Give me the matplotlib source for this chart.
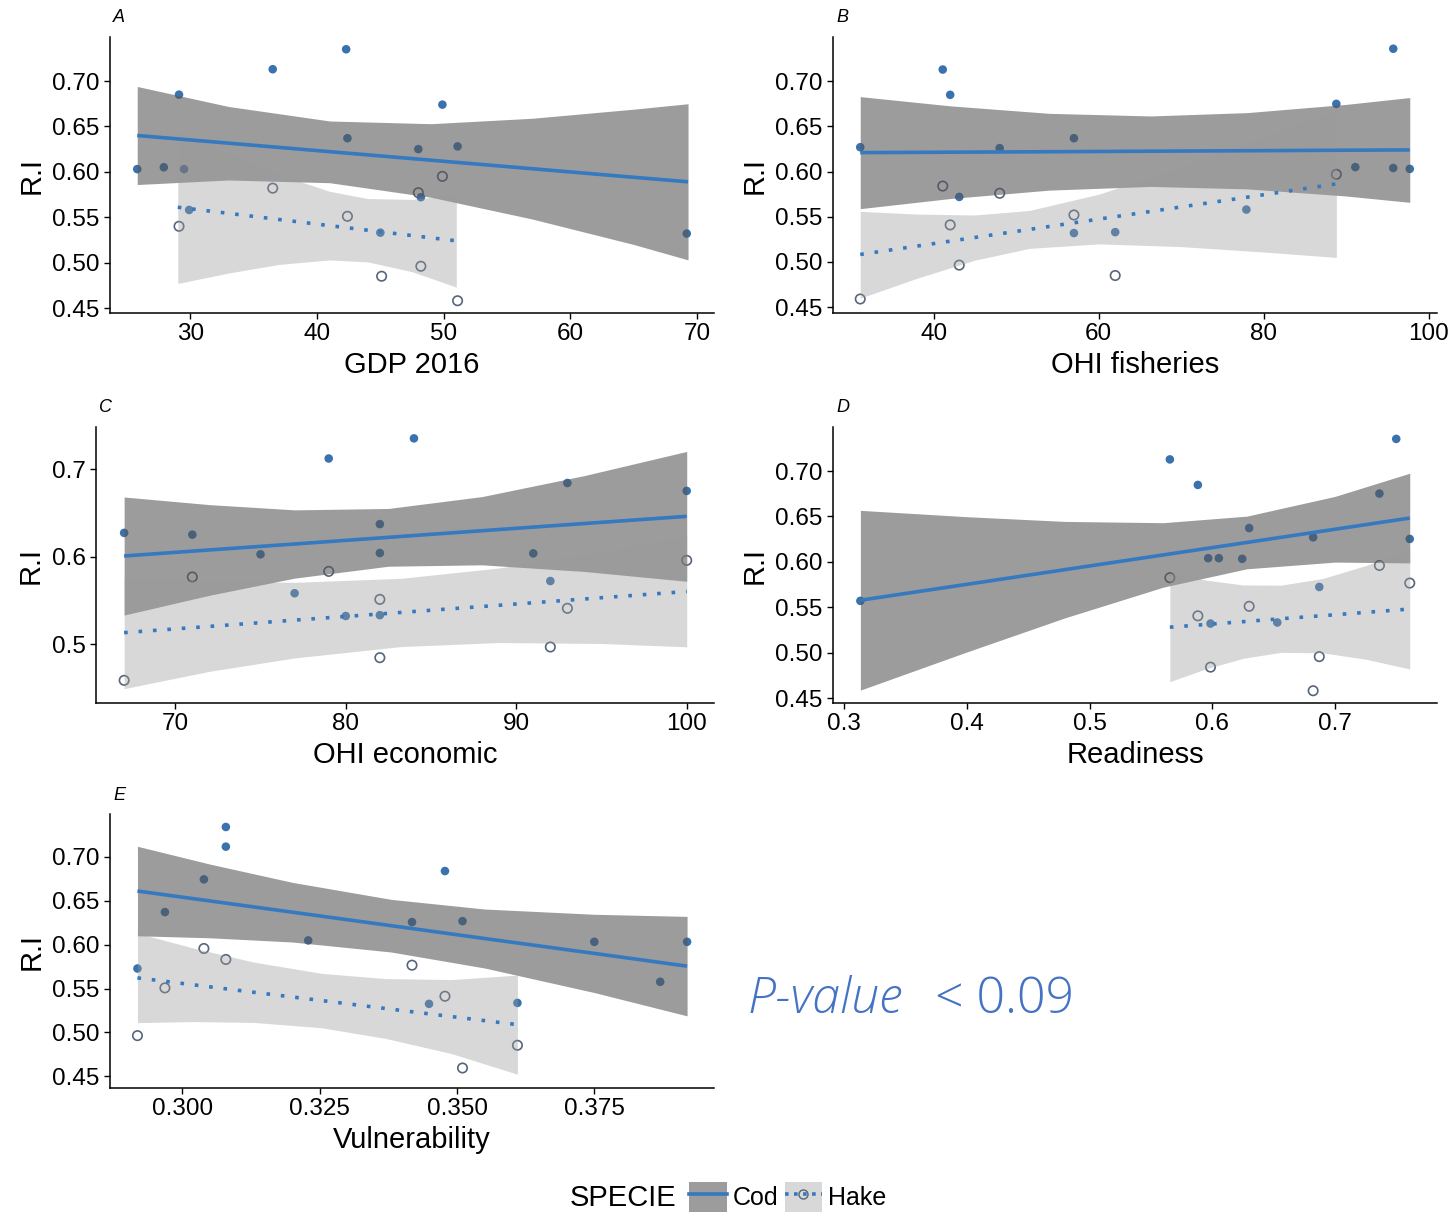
import matplotlib
matplotlib.use("Agg")
import matplotlib.pyplot as plt
from matplotlib.patches import Patch
from matplotlib.lines import Line2D

# -----------------------------
# DATA
# -----------------------------
# A: GDP 2016
GDP_COD_X = [25.8, 27.9, 29.5, 29.1, 36.5, 42.3, 42.4, 48.0, 49.9, 51.1, 48.2, 29.9, 45.0, 69.2]
GDP_COD_Y = [0.603, 0.605, 0.603, 0.685, 0.713, 0.735, 0.637, 0.625, 0.674, 0.628, 0.572, 0.558, 0.533, 0.532]
GDP_HAKE_X = [29.1, 36.5, 42.4, 48.0, 49.9, 45.1, 48.2, 51.1]
GDP_HAKE_Y = [0.540, 0.582, 0.551, 0.577, 0.595, 0.485, 0.496, 0.458]
GDP_COD_FX = [25.8, 33, 41, 49, 57, 65, 69.3]
GDP_COD_FIT = [0.640, 0.6316, 0.6222, 0.6128, 0.6034, 0.5940, 0.589]
GDP_COD_HI = [0.694, 0.672, 0.656, 0.653, 0.659, 0.669, 0.675]
GDP_COD_LO = [0.586, 0.591, 0.588, 0.572, 0.548, 0.520, 0.503]
GDP_HAKE_FX = [29, 33, 37, 41, 44, 47.5, 51]
GDP_HAKE_FIT = [0.561, 0.5543, 0.5475, 0.5407, 0.5357, 0.5298, 0.524]
GDP_HAKE_HI = [0.645, 0.620, 0.597, 0.5785, 0.5706, 0.5696, 0.575]
GDP_HAKE_LO = [0.477, 0.4885, 0.498, 0.503, 0.5008, 0.490, 0.473]

# B: OHI fisheries
FIS_COD_X = [31.1, 41.1, 42.0, 43.1, 48.0, 57.0, 57.0, 62.0, 77.9, 88.8, 91.1, 95.7, 95.7, 97.7]
FIS_COD_Y = [0.627, 0.713, 0.685, 0.572, 0.626, 0.637, 0.532, 0.533, 0.558, 0.675, 0.605, 0.736, 0.604, 0.603]
FIS_HAKE_X = [31.1, 41.1, 42.0, 43.1, 48.0, 57.0, 62.0, 88.8]
FIS_HAKE_Y = [0.459, 0.584, 0.541, 0.4965, 0.576, 0.552, 0.485, 0.597]
FIS_COD_FX = [31.1, 42, 54, 66.3, 78, 90, 97.7]
FIS_COD_FIT = [0.621, 0.6215, 0.622, 0.6226, 0.6231, 0.6237, 0.624]
FIS_COD_HI = [0.683, 0.6728, 0.6645, 0.6616, 0.6653, 0.6744, 0.682]
FIS_COD_LO = [0.559, 0.5702, 0.5795, 0.5836, 0.5809, 0.573, 0.566]
FIS_HAKE_FX = [31.1, 38, 45, 51.6, 60, 70, 80, 88.8]
FIS_HAKE_FIT = [0.5083, 0.5176, 0.5271, 0.536, 0.5474, 0.5609, 0.5744, 0.5864]
FIS_HAKE_HI = [0.556, 0.553, 0.552, 0.557, 0.575, 0.605, 0.638, 0.667]
FIS_HAKE_LO = [0.460, 0.482, 0.502, 0.515, 0.520, 0.517, 0.511, 0.505]

# C: OHI economic
ECO_COD_X = [67, 71, 75, 77, 79, 80, 82, 82, 82, 84, 91, 92, 93, 100]
ECO_COD_Y = [0.627, 0.625, 0.6025, 0.558, 0.712, 0.532, 0.637, 0.604, 0.533, 0.735, 0.6036, 0.572, 0.684, 0.675]
ECO_HAKE_X = [67, 71, 79, 82, 82, 92, 93, 100]
ECO_HAKE_Y = [0.4585, 0.5766, 0.583, 0.551, 0.4844, 0.4966, 0.5408, 0.5956]
ECO_COD_FX = [67, 72, 77, 82.5, 88, 94, 100]
ECO_COD_FIT = [0.6006, 0.6075, 0.6143, 0.6219, 0.6295, 0.6377, 0.6459]
ECO_COD_HI = [0.668, 0.6593, 0.6533, 0.6549, 0.6685, 0.6925, 0.7201]
ECO_COD_LO = [0.5331, 0.5557, 0.5753, 0.5889, 0.5905, 0.5829, 0.5717]
ECO_HAKE_FX = [67, 72, 77, 83.25, 89, 95, 100]
ECO_HAKE_FIT = [0.513, 0.5201, 0.5273, 0.5361, 0.5443, 0.5529, 0.560]
ECO_HAKE_HI = [0.575, 0.5714, 0.5705, 0.5751, 0.5869, 0.6052, 0.6232]
ECO_HAKE_LO = [0.449, 0.4688, 0.4841, 0.4971, 0.5017, 0.5006, 0.4968]

# D: Readiness
RDY_COD_X = [0.3133, 0.5654, 0.5882, 0.5966, 0.6053, 0.6243, 0.630, 0.5985, 0.6529, 0.6821, 0.6871, 0.7361, 0.7498, 0.7608]
RDY_COD_Y = [0.557, 0.7128, 0.6847, 0.604, 0.604, 0.6033, 0.6372, 0.532, 0.5332, 0.627, 0.5723, 0.6752, 0.7354, 0.6252]
RDY_HAKE_X = [0.5654, 0.5882, 0.5985, 0.630, 0.6821, 0.6871, 0.7361, 0.7608]
RDY_HAKE_Y = [0.5825, 0.5405, 0.484, 0.551, 0.458, 0.4956, 0.596, 0.5766]
RDY_COD_FX = [0.3133, 0.40, 0.48, 0.56, 0.628, 0.70, 0.7608]
RDY_COD_FIT = [0.5577, 0.5752, 0.5914, 0.6076, 0.6213, 0.6359, 0.6482]
RDY_COD_HI = [0.6567, 0.6497, 0.6445, 0.6431, 0.6503, 0.6721, 0.6976]
RDY_COD_LO = [0.4587, 0.5007, 0.5383, 0.5721, 0.5923, 0.5997, 0.5988]
RDY_HAKE_FX = [0.5654, 0.595, 0.625, 0.656, 0.69, 0.725, 0.7608]
RDY_HAKE_FIT = [0.528, 0.531, 0.5341, 0.5373, 0.5407, 0.5443, 0.548]
RDY_HAKE_HI = [0.588, 0.5798, 0.5745, 0.5743, 0.5817, 0.5959, 0.614]
RDY_HAKE_LO = [0.468, 0.4822, 0.4937, 0.5003, 0.4997, 0.4927, 0.482]

# E: Vulnerability
VUL_COD_X = [0.2918, 0.2968, 0.3039, 0.3079, 0.3079, 0.3229, 0.3418, 0.3449, 0.3478, 0.3510, 0.3610, 0.375, 0.387, 0.3919]
VUL_COD_Y = [0.5729, 0.6372, 0.6745, 0.7342, 0.7118, 0.6049, 0.6258, 0.5326, 0.684, 0.6269, 0.5337, 0.6033, 0.5577, 0.6033]
VUL_HAKE_X = [0.2918, 0.2968, 0.3039, 0.3079, 0.3418, 0.3478, 0.3510, 0.3610]
VUL_HAKE_Y = [0.4964, 0.5508, 0.5957, 0.5832, 0.5767, 0.5413, 0.4595, 0.4854]
VUL_COD_FX = [0.2918, 0.305, 0.32, 0.338, 0.355, 0.375, 0.3919]
VUL_COD_FIT = [0.6612, 0.6499, 0.6371, 0.6217, 0.6071, 0.5901, 0.5756]
VUL_COD_HI = [0.7122, 0.6919, 0.6711, 0.6517, 0.6407, 0.6347, 0.6323]
VUL_COD_LO = [0.6102, 0.6079, 0.6031, 0.5917, 0.5735, 0.5455, 0.5189]
VUL_HAKE_FX = [0.2918, 0.302, 0.313, 0.3253, 0.337, 0.349, 0.361]
VUL_HAKE_FIT = [0.5622, 0.5543, 0.5458, 0.5364, 0.5273, 0.5181, 0.5089]
VUL_HAKE_HI = [0.6132, 0.5962, 0.5802, 0.5674, 0.5614, 0.5603, 0.5654]
VUL_HAKE_LO = [0.5112, 0.5124, 0.5114, 0.5054, 0.4932, 0.4759, 0.4524]

Y_TICKS_2 = [0.45, 0.50, 0.55, 0.60, 0.65, 0.70]
Y_TICKS_1 = [0.5, 0.6, 0.7]

# -----------------------------
# STYLE
# -----------------------------
W, H = 1453, 1213
LINE_BLUE = "#3579c0"
POINT_BLUE = "#3a72ad"
HAKE_EDGE = "#56657d"
COD_FILL = "#555555"
HAKE_FILL = "#9a9a9a"
NOTE_BLUE = "#4472c4"

plt.rcParams["font.family"] = ["Liberation Sans", "DejaVu Sans"]

fig = plt.figure(figsize=(W / 100, H / 100), dpi=100)


def box(l, r, t, b):
    return [l / W, 1 - b / H, (r - l) / W, (b - t) / H]


def panel(rect, letter, xlabel, cod, hake, xlim, ylim, xticks, xfmt, yticks, yfmt):
    ax = fig.add_axes(rect)
    cx, cy, cfx, cfit, chi, clo = cod
    hx, hy, hfx, hfit, hhi, hlo = hake

    # points first, ribbons go over them like geom_smooth does
    ax.scatter(cx, cy, s=38, color=POINT_BLUE, edgecolors="none", zorder=1)
    ax.scatter(hx, hy, s=46, facecolors="none", edgecolors=HAKE_EDGE, linewidths=1.2, zorder=1)

    ax.fill_between(cfx, clo, chi, color=COD_FILL, alpha=0.58, linewidth=0, zorder=2)
    ax.fill_between(hfx, hlo, hhi, color=HAKE_FILL, alpha=0.38, linewidth=0, zorder=2)
    ax.plot(cfx, cfit, color=LINE_BLUE, lw=2.6, solid_capstyle="butt", zorder=3)
    ax.plot(hfx, hfit, color=LINE_BLUE, lw=2.6, linestyle=(0, (1, 3)),
            dash_capstyle="butt", zorder=3)

    ax.set_xlim(*xlim)
    ax.set_ylim(*ylim)
    ax.set_xticks(xticks)
    ax.set_xticklabels([xfmt.format(v) for v in xticks])
    ax.set_yticks(yticks)
    ax.set_yticklabels([yfmt.format(v) for v in yticks])
    ax.spines["top"].set_visible(False)
    ax.spines["right"].set_visible(False)
    for s in ("left", "bottom"):
        ax.spines[s].set_linewidth(1.1)
    ax.tick_params(direction="out", length=4, width=1.0, labelsize=17.5, pad=3.5, colors="black")
    ax.set_xlabel(xlabel, fontsize=21, labelpad=4)
    ax.set_ylabel("R.I", fontsize=21, labelpad=5)

    l = rect[0] * W
    t = (1 - rect[1] - rect[3]) * H
    fig.text((l + 3) / W, 1 - (t - 19) / H, letter, fontsize=13, style="italic", va="center")
    return ax


panel(box(110, 714, 37, 313), "A", "GDP 2016",
      (GDP_COD_X, GDP_COD_Y, GDP_COD_FX, GDP_COD_FIT, GDP_COD_HI, GDP_COD_LO),
      (GDP_HAKE_X, GDP_HAKE_Y, GDP_HAKE_FX, GDP_HAKE_FIT, GDP_HAKE_HI, GDP_HAKE_LO),
      (23.65, 71.35), (0.4445, 0.7485), [30, 40, 50, 60, 70], "{:.0f}", Y_TICKS_2, "{:.2f}")

panel(box(833, 1437, 37, 313), "B", "OHI fisheries",
      (FIS_COD_X, FIS_COD_Y, FIS_COD_FX, FIS_COD_FIT, FIS_COD_HI, FIS_COD_LO),
      (FIS_HAKE_X, FIS_HAKE_Y, FIS_HAKE_FX, FIS_HAKE_FIT, FIS_HAKE_HI, FIS_HAKE_LO),
      (27.8, 101.0), (0.4435, 0.749), [40, 60, 80, 100], "{:.0f}", Y_TICKS_2, "{:.2f}")

panel(box(96, 714, 427, 703), "C", "OHI economic",
      (ECO_COD_X, ECO_COD_Y, ECO_COD_FX, ECO_COD_FIT, ECO_COD_HI, ECO_COD_LO),
      (ECO_HAKE_X, ECO_HAKE_Y, ECO_HAKE_FX, ECO_HAKE_FIT, ECO_HAKE_HI, ECO_HAKE_LO),
      (65.35, 101.6), (0.4326, 0.748), [70, 80, 90, 100], "{:.0f}", Y_TICKS_1, "{:.1f}")

panel(box(833, 1437, 427, 703), "D", "Readiness",
      (RDY_COD_X, RDY_COD_Y, RDY_COD_FX, RDY_COD_FIT, RDY_COD_HI, RDY_COD_LO),
      (RDY_HAKE_X, RDY_HAKE_Y, RDY_HAKE_FX, RDY_HAKE_FIT, RDY_HAKE_HI, RDY_HAKE_LO),
      (0.291, 0.783), (0.4445, 0.7485), [0.3, 0.4, 0.5, 0.6, 0.7], "{:.1f}", Y_TICKS_2, "{:.2f}")

panel(box(110, 714, 814, 1088), "E", "Vulnerability",
      (VUL_COD_X, VUL_COD_Y, VUL_COD_FX, VUL_COD_FIT, VUL_COD_HI, VUL_COD_LO),
      (VUL_HAKE_X, VUL_HAKE_Y, VUL_HAKE_FX, VUL_HAKE_FIT, VUL_HAKE_HI, VUL_HAKE_LO),
      (0.2868, 0.3968), (0.4367, 0.749), [0.300, 0.325, 0.350, 0.375], "{:.3f}", Y_TICKS_2, "{:.2f}")

# P-value note
note_font = ["Open Sans", "DejaVu Sans"]
fig.text(748 / W, 1 - 1013 / H, "P-value", fontsize=36, color=NOTE_BLUE, style="italic",
         family=note_font, weight="light", va="baseline")
fig.text(935 / W, 1 - 1013 / H, "< 0.09", fontsize=36, color=NOTE_BLUE,
         family=note_font, weight="light", va="baseline")

# legend at the bottom
fig.text(570 / W, 1 - 1198 / H, "SPECIE", fontsize=21, va="center")
cod_key = (Patch(facecolor=COD_FILL, alpha=0.58, edgecolor="none"),
           Line2D([], [], color=LINE_BLUE, lw=2.6))
hake_key = (Patch(facecolor=HAKE_FILL, alpha=0.38, edgecolor="none"),
            Line2D([], [], color=LINE_BLUE, lw=2.6, linestyle=(0, (1, 1.5))),
            Line2D([], [], color="none", marker="o", markersize=6.5,
                   markerfacecolor="none", markeredgecolor=HAKE_EDGE))
fig.legend([cod_key, hake_key], ["Cod", "Hake"], loc="center left",
           bbox_to_anchor=(689 / W, 1 - 1197 / H), ncol=2, frameon=False,
           fontsize=18, handlelength=1.5, handleheight=1.45, handletextpad=0.25,
           columnspacing=0.25, borderpad=0, borderaxespad=0, numpoints=1)

fig.savefig("out.png", dpi=100)
